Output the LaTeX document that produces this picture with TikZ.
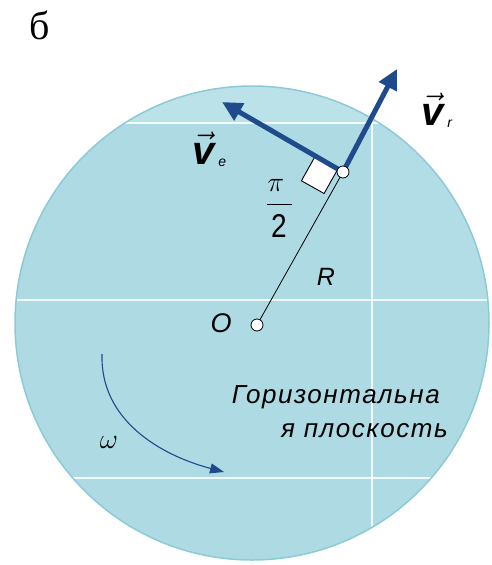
\documentclass[tikz,border=0pt]{standalone}
\usepackage{fix-cm}
\usepackage{fontspec}
\usepackage{amsmath}
\usetikzlibrary{arrows.meta,calc}
\newfontfamily\lsans{Liberation Sans}
\newfontfamily\lsanswide[LetterSpace=6]{Liberation Sans}
\newfontfamily\lserif{Liberation Serif}
\definecolor{disk}{RGB}{174,218,228}
\definecolor{diskedge}{RGB}{140,203,214}
\definecolor{disklight}{RGB}{188,226,233}
\definecolor{arrowblue}{RGB}{31,74,140}
\newcommand{\vecsym}[1]{$\vec{\text{\lsans\bfseries\itshape v}}$\hspace{4pt}\raisebox{-2pt}{\lsans\mdseries\itshape\fontsize{14}{14}\selectfont #1}}
\tikzset{
  gridline/.style={white, line width=1.6pt, opacity=0.85},
  vecarrow/.style={arrowblue, line width=5pt, -{Triangle[length=20pt,width=19pt]}},
  pt/.style={circle, draw=black, fill=white, line width=0.8pt, inner sep=0pt, minimum size=12pt},
  lbl/.style={font=\lsans\itshape, inner sep=0pt},
  veclbl/.style={inner sep=0pt, anchor=base west, font=\lsans\bfseries\itshape\fontsize{40}{40}\selectfont},
}
\begin{document}
\begin{tikzpicture}[x=1pt,y=-1pt]
\useasboundingbox (0,0) rectangle (491,565);
% disk
\fill[disk] (252,323) circle (237);
\begin{scope}
\clip (252,323) circle (237);
\fill[disklight] (0,80) rectangle (491,123);
\fill[disklight, opacity=0.4] (372,123) rectangle (491,300);
\draw[gridline] (0,123) -- (491,123);
\draw[gridline] (0,300) -- (491,300);
\draw[gridline] (0,478) -- (491,478);
\draw[gridline] (372,80) -- (372,565);
\end{scope}
\draw[diskedge, line width=1.5pt] (252,323) circle (237);
% label б
\node[font=\lserif\fontsize{40}{40}\selectfont, inner sep=0pt] (b) at (40,25) {б};
% points
\coordinate (Oc) at (257,325);
\coordinate (Pc) at (343,172);
% radius line
\draw[black, line width=0.8pt] (Oc) -- (Pc);
% right angle square
\coordinate (s0) at (337.8,169.1);
\coordinate (s1) at (315.1,156.4);
\coordinate (s2) at (301.4,180.8);
\coordinate (s3) at (324.1,193.5);
\draw[black, fill=white, line width=0.9pt] (s0) -- (s1) -- (s2) -- (s3) -- cycle;
% arrows
\coordinate (Ve) at (222,102);
\coordinate (Vr) at (397,69);
\draw[vecarrow] (Pc) -- (Ve);
\draw[vecarrow] (Pc) -- (Vr);
\node[pt] (O) at (Oc) {};
\node[pt] (P) at (Pc) {};
% labels
\node[veclbl] (ve) at (192,164) {\vecsym{e}};
\node[veclbl] (vr) at (421,125) {\vecsym{r}};
\node[inner sep=0pt, font=\fontsize{28}{28}\selectfont] (pi) at (276,185) {$\pi$};
\draw[black, line width=0.9pt] (267,204) -- (292,204);
\node[lbl, font=\lsans\fontsize{33}{33}\selectfont, xscale=0.85] (two) at (279,226) {2};
\node[lbl, font=\lsans\itshape\fontsize{25}{25}\selectfont] (R) at (326,277) {R};
\node[lbl, font=\lsans\itshape\fontsize{27}{27}\selectfont] (Ol) at (221,323) {O};
\node[lbl, font=\lsanswide\itshape\fontsize{26}{26}\selectfont, anchor=base east] (txt1) at (440,403) {Горизонтальна};
\node[lbl, font=\lsanswide\itshape\fontsize{26}{26}\selectfont, anchor=base east] (txt2) at (448,437) {я плоскость};
% omega
\coordinate (w1) at (102,354);
\coordinate (w2) at (224,472);
\draw[arrowblue, line width=1.1pt, -{Triangle[length=14pt,width=10pt]}] (w1) .. controls (100,420) and (160,455) .. (w2);
\node[inner sep=0pt, font=\fontsize{28}{28}\selectfont] (om) at (109,442) {$\omega$};
\end{tikzpicture}
\end{document}
